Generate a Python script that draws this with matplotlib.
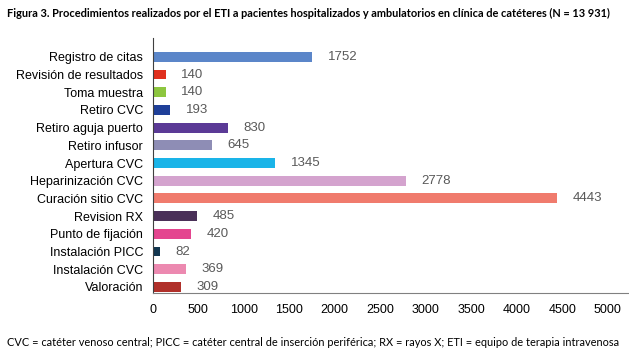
import matplotlib.pyplot as plt

# data, top to bottom as shown
categorias = ['Registro de citas', 'Revisión de resultados', 'Toma muestra', 'Retiro CVC',
              'Retiro aguja puerto', 'Retiro infusor', 'Apertura CVC', 'Heparinización CVC',
              'Curación sitio CVC', 'Revision RX', 'Punto de fijación', 'Instalación PICC',
              'Instalación CVC', 'Valoración']
valores = [1752, 140, 140, 193, 830, 645, 1345, 2778, 4443, 485, 420, 82, 369, 309]
colores = ['#5B86C9', '#E0301E', '#8DC63F', '#1F3F99', '#5B3A96', '#8E8DB5', '#1AB4E8',
           '#D4A3CE', '#F07B6D', '#4A3058', '#E4458F', '#12364F', '#EC89B0', '#B0302A']
ticks_x = [0, 500, 1000, 1500, 2000, 2500, 3000, 3500, 4000, 4500, 5000]

titulo = 'Figura 3. Procedimientos realizados por el ETI a pacientes hospitalizados y ambulatorios en clínica de catéteres (N = 13 931)'
nota = 'CVC = catéter venoso central; PICC = catéter central de inserción periférica; RX = rayos X; ETI = equipo de terapia intravenosa'

plt.rcParams['font.family'] = ['Liberation Sans', 'DejaVu Sans']

fig = plt.figure(figsize=(6.29, 3.61), dpi=100)
ax = fig.add_axes([0.243, 0.188, 0.755, 0.707])

y = list(range(len(categorias)))
ax.barh(y, valores, height=0.56, color=colores)
for yi, v in zip(y, valores):
    ax.text(v + 170, yi, str(v), va='center', ha='left', fontsize=9.5, color='#595959')

ax.set_yticks(y)
ax.set_yticklabels(categorias, fontsize=9)
ax.set_ylim(13.35, -1.07)
ax.set_xlim(0, 5220)
ax.set_xticks(ticks_x)
ax.set_xticklabels([str(t) for t in ticks_x], fontsize=9)
ax.tick_params(axis='y', length=0, pad=7)
ax.tick_params(axis='x', length=0, pad=8)
for s in ['top', 'right']:
    ax.spines[s].set_visible(False)
ax.spines['left'].set_color('#404040')
ax.spines['bottom'].set_color('#808080')

fig.text(0.011, 0.963, titulo, fontsize=7.9, fontweight='bold', family=['Lato', 'DejaVu Sans'],
         va='center', ha='left')
fig.text(0.011, 0.052, nota, fontsize=7.9, family=['Lato', 'DejaVu Sans'], va='center', ha='left')

fig.savefig('out.png', dpi=100)
